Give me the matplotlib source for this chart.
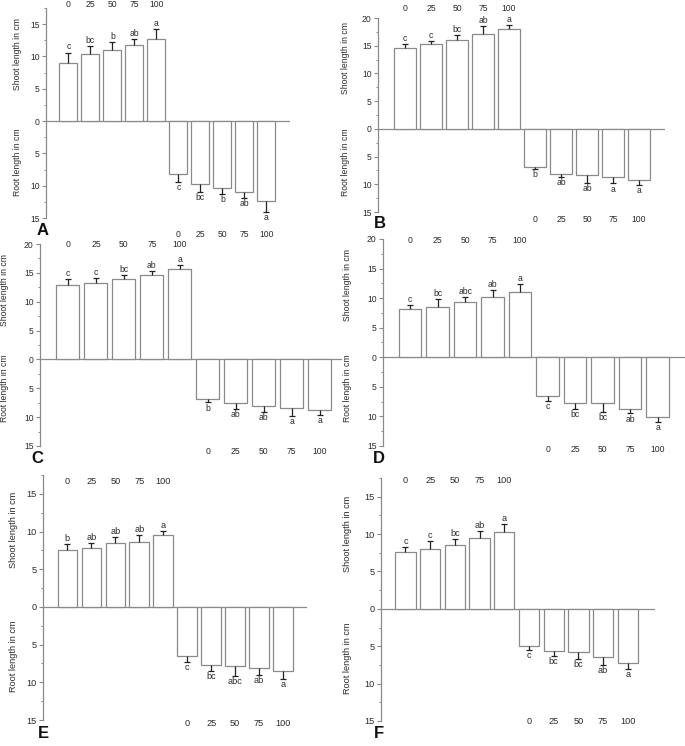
import matplotlib
matplotlib.use('Agg')
import matplotlib.pyplot as plt
import matplotlib.transforms as mtrans
from matplotlib.ticker import MultipleLocator, FuncFormatter
import numpy as np

plt.rcParams['font.family'] = ['Liberation Sans', 'DejaVu Sans']

# ---------------- data ----------------
doses = ['0', '25', '50', '75', '100']

shoot_A = [9.05, 10.45, 11.0, 11.7, 12.75]
shoot_err_A = [1.55, 1.2, 1.25, 1.0, 1.55]
root_A = [8.25, 9.8, 10.35, 11.05, 12.3]
root_err_A = [1.2, 1.15, 0.9, 0.9, 1.75]
shoot_let_A = ['c', 'bc', 'b', 'ab', 'a']
root_let_A = ['c', 'bc', 'b', 'ab', 'a']

shoot_B = [14.5, 15.3, 15.95, 17.15, 18.05]
shoot_err_B = [0.75, 0.55, 1.05, 1.4, 0.75]
root_B = [6.8, 8.1, 8.3, 8.6, 9.2]
root_err_B = [0.45, 0.6, 1.4, 1.25, 0.9]
shoot_let_B = ['c', 'c', 'bc', 'ab', 'a']
root_let_B = ['b', 'ab', 'ab', 'a', 'a']

shoot_C = [12.85, 13.2, 13.85, 14.55, 15.6]
shoot_err_C = [1.1, 0.85, 0.8, 0.75, 0.8]
root_C = [6.8, 7.6, 8.0, 8.45, 8.8]
root_err_C = [0.65, 1.0, 1.05, 1.4, 0.8]
shoot_let_C = ['c', 'c', 'bc', 'ab', 'a']
root_let_C = ['b', 'ab', 'ab', 'a', 'a']

shoot_D = [8.1, 8.5, 9.35, 10.2, 11.0]
shoot_err_D = [0.75, 1.3, 0.85, 1.2, 1.45]
root_D = [6.55, 7.75, 7.8, 8.75, 10.1]
root_err_D = [0.9, 1.05, 1.4, 0.75, 0.85]
shoot_let_D = ['c', 'bc', 'abc', 'ab', 'a']
root_let_D = ['c', 'bc', 'bc', 'ab', 'a']

shoot_E = [7.55, 7.85, 8.5, 8.65, 9.5]
shoot_err_E = [0.75, 0.6, 0.8, 0.9, 0.6]
root_E = [6.55, 7.7, 7.9, 8.1, 8.5]
root_err_E = [0.7, 0.8, 1.25, 0.95, 1.05]
shoot_let_E = ['b', 'ab', 'ab', 'ab', 'a']
root_let_E = ['c', 'bc', 'abc', 'ab', 'a']

shoot_F = [7.6, 8.05, 8.6, 9.5, 10.3]
shoot_err_F = [0.65, 1.0, 0.7, 0.85, 1.0]
root_F = [4.95, 5.7, 5.8, 6.4, 7.25]
root_err_F = [0.6, 0.65, 0.85, 1.15, 0.8]
shoot_let_F = ['c', 'c', 'bc', 'ab', 'a']
root_let_F = ['c', 'bc', 'bc', 'ab', 'a']

panel_data = {
    'A': (shoot_A, shoot_err_A, root_A, root_err_A, shoot_let_A, root_let_A),
    'B': (shoot_B, shoot_err_B, root_B, root_err_B, shoot_let_B, root_let_B),
    'C': (shoot_C, shoot_err_C, root_C, root_err_C, shoot_let_C, root_let_C),
    'D': (shoot_D, shoot_err_D, root_D, root_err_D, shoot_let_D, root_let_D),
    'E': (shoot_E, shoot_err_E, root_E, root_err_E, shoot_let_E, root_let_E),
    'F': (shoot_F, shoot_err_F, root_F, root_err_F, shoot_let_F, root_let_F),
}

# ---------------- layout (pixels) ----------------
W, H = 685, 746
layout = {
    'A': dict(box=(46, 290, 8, 218), ylim=(-15, 17.5), xlim=(-1.02, 10.07),
              top_y=18.1, bot_y=-17.5, dx=29, sy=10.4, ry=-6.3, let=(43, 235), fs=6.2),
    'B': dict(box=(378, 665, 18, 212), ylim=(-15, 20), xlim=(-1.04, 10.0),
              top_y=21.8, bot_y=-16.3, dx=33, sy=12.7, ry=-6.0, let=(380, 228), fs=6.2),
    'C': dict(box=(40, 342, 244, 446), ylim=(-15, 20), xlim=(-1.0, 9.8),
              top_y=19.9, bot_y=-16.0, dx=35, sy=12.0, ry=-5.0, let=(37, 463), fs=6.2),
    'D': dict(box=(383, 685, 239, 446), ylim=(-15, 20), xlim=(-0.99, 10.0),
              top_y=19.8, bot_y=-15.6, dx=36, sy=12.2, ry=-5.3, let=(379, 463), fs=6.2),
    'E': dict(box=(43, 307, 475, 720), ylim=(-15, 17.5), xlim=(-1.02, 10.0),
              top_y=16.7, bot_y=-15.5, dx=30, sy=10.2, ry=-6.6, let=(43, 738), fs=6.6),
    'F': dict(box=(381, 655, 478, 721), ylim=(-15, 17.5), xlim=(-0.99, 10.1),
              top_y=17.2, bot_y=-15.1, dx=33, sy=10.0, ry=-6.6, let=(379, 738), fs=6.6),
}

EDGE = '#8a8a8a'
ERR = '#222222'
TXT = '#2a2a2a'

fig = plt.figure(figsize=(W / 100, H / 100), dpi=100)

for name, (shoot, s_err, root, r_err, s_let, r_let) in panel_data.items():
    L = layout[name]
    x0, x1, y0, y1 = L['box']
    ax = fig.add_axes([x0 / W, 1 - y1 / H, (x1 - x0) / W, (y1 - y0) / H])
    fs = L['fs']
    shoot = np.array(shoot); s_err = np.array(s_err)
    root = np.array(root); r_err = np.array(r_err)
    xs = np.arange(5)
    xr = np.arange(5, 10)

    ax.bar(xs, shoot, width=0.82, color='white', edgecolor=EDGE, linewidth=0.9, zorder=2)
    ax.bar(xr, -root, width=0.82, color='white', edgecolor=EDGE, linewidth=0.9, zorder=2)

    # one-sided error bars
    ax.vlines(xs, shoot, shoot + s_err, color=ERR, linewidth=0.9, zorder=3)
    ax.plot(xs, shoot + s_err, ls='none', marker='_', ms=5, mew=0.9, color=ERR, zorder=3)
    ax.vlines(xr, -root, -(root + r_err), color=ERR, linewidth=0.9, zorder=3)
    ax.plot(xr, -(root + r_err), ls='none', marker='_', ms=5, mew=0.9, color=ERR, zorder=3)

    for i in range(5):
        ax.annotate(s_let[i], (xs[i], shoot[i] + s_err[i]), xytext=(0, 0.8),
                    textcoords='offset points', ha='center', va='bottom',
                    fontsize=fs, color=TXT)
        ax.annotate(r_let[i], (xr[i], -(root[i] + r_err[i])), xytext=(0, -0.8),
                    textcoords='offset points', ha='center', va='top',
                    fontsize=fs, color=TXT)
        ax.text(xs[i], L['top_y'], doses[i], ha='center', va='center',
                fontsize=fs, color=TXT, clip_on=False)
        ax.text(xr[i], L['bot_y'], doses[i], ha='center', va='center',
                fontsize=fs, color=TXT, clip_on=False)

    ax.axhline(0, color=EDGE, linewidth=0.9, zorder=1)
    ax.set_xlim(*L['xlim'])
    ax.set_ylim(*L['ylim'])
    ax.set_xticks([])
    for s in ('top', 'right', 'bottom'):
        ax.spines[s].set_visible(False)
    ax.spines['left'].set_color(EDGE)
    ax.spines['left'].set_linewidth(0.9)
    ax.yaxis.set_major_locator(MultipleLocator(5))
    ax.yaxis.set_minor_locator(MultipleLocator(2.5))
    ax.yaxis.set_major_formatter(FuncFormatter(lambda v, p: f'{abs(v):g}'))
    ax.tick_params(axis='y', which='major', length=3, width=0.8, color=EDGE,
                   labelsize=fs, labelcolor=TXT, pad=1.5)
    ax.tick_params(axis='y', which='minor', length=1.8, width=0.7, color=EDGE)
    ax.patch.set_visible(False)

    trans = mtrans.blended_transform_factory(ax.transAxes, ax.transData)
    ax.annotate('Shoot length in cm', xy=(0, L['sy']), xycoords=trans,
                xytext=(-L['dx'] * 0.72, 0), textcoords='offset points',
                rotation=90, ha='center', va='center', fontsize=fs, color=TXT)
    ax.annotate('Root length in cm', xy=(0, L['ry']), xycoords=trans,
                xytext=(-L['dx'] * 0.72, 0), textcoords='offset points',
                rotation=90, ha='center', va='center', fontsize=fs, color=TXT)

    lx, ly = L['let']
    fig.text(lx / W, 1 - ly / H, name, fontsize=12, fontweight='bold',
             ha='center', va='baseline', color='#111111')

fig.savefig('out.png', dpi=100)
